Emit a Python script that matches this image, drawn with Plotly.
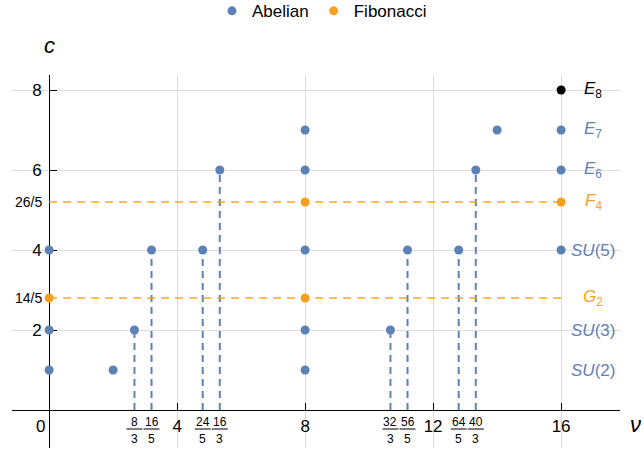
import plotly.graph_objects as go

# ---- data ----
abelian_x = [0, 0, 0, 2, 8/3, 16/5, 24/5, 16/3, 8, 8, 8, 8, 8, 32/3, 56/5, 64/5, 40/3, 14, 16, 16, 16]
abelian_y = [1, 2, 4, 1, 2, 4, 4, 6, 1, 2, 4, 6, 7, 2, 4, 4, 6, 7, 4, 6, 7]
fib_x = [0, 8, 8, 16]
fib_y = [14/5, 14/5, 26/5, 26/5]
e8_x = [16]
e8_y = [8]

stem_num = [8, 16, 24, 16, 32, 56, 64, 40]
stem_den = [3, 5, 5, 3, 3, 5, 5, 3]
stem_c = [2, 4, 4, 6, 2, 4, 4, 6]

fib_levels = [14/5, 26/5]
fib_level_text = ["14/5", "26/5"]

x_ticks = [4, 8, 12, 16]
y_ticks = [2, 4, 6, 8]

group_labels = ["<i>E</i><sub>8</sub>", "<i>E</i><sub>7</sub>", "<i>E</i><sub>6</sub>", "<i>F</i><sub>4</sub>",
                "<i>SU</i>(5)", "<i>G</i><sub>2</sub>", "<i>SU</i>(3)", "<i>SU</i>(2)"]
group_c = [8, 7, 6, 26/5, 4, 14/5, 2, 1]
group_kind = ["e8", "ab", "ab", "fib", "ab", "fib", "ab", "ab"]
label_x = 17

BLUE = "#5E81B5"
ORANGE = "#F5A01E"
ORANGE_LIGHT = "rgba(245,160,30,0.7)"
FONT = "Liberation Sans"
kind_color = {"ab": BLUE, "fib": ORANGE, "e8": "black"}

fig = go.Figure()

# stems (vertical dashed)
sx, sy = [], []
for n, d, c in zip(stem_num, stem_den, stem_c):
    sx += [n / d, n / d, None]
    sy += [0, c, None]
fig.add_trace(go.Scatter(x=sx, y=sy, mode="lines", showlegend=False, hoverinfo="skip",
                         line=dict(color=BLUE, width=2, dash="7px,5px")))

# Fibonacci horizontal dashed
hx, hy = [], []
for v in fib_levels:
    hx += [0, 16, None]
    hy += [v, v, None]
fig.add_trace(go.Scatter(x=hx, y=hy, mode="lines", showlegend=False, hoverinfo="skip",
                         line=dict(color=ORANGE_LIGHT, width=2, dash="8px,6px")))

fig.add_trace(go.Scatter(x=abelian_x, y=abelian_y, mode="markers", name="Abelian",
                         marker=dict(color=BLUE, size=9)))
fig.add_trace(go.Scatter(x=fib_x, y=fib_y, mode="markers", name="Fibonacci",
                         marker=dict(color=ORANGE, size=9)))
fig.add_trace(go.Scatter(x=e8_x, y=e8_y, mode="markers", showlegend=False,
                         marker=dict(color="black", size=9)))

xr = [-1.16, 17.84]
yr = [-0.95, 8.375]

annotations = []
shapes = []
for n, d in zip(stem_num, stem_den):
    xv = n / d
    annotations.append(dict(x=xv, y=0, text=str(n), showarrow=False, yshift=-12, yanchor="middle",
                            font=dict(family=FONT, size=12, color="black")))
    annotations.append(dict(x=xv, y=0, text=str(d), showarrow=False, yshift=-29, yanchor="middle",
                            font=dict(family=FONT, size=12, color="black")))
    shapes.append(dict(type="line", xref="x", yref="y", xsizemode="pixel", ysizemode="pixel",
                       xanchor=xv, yanchor=0, x0=-8, x1=8, y0=-19, y1=-19,
                       line=dict(color="black", width=1)))

for v, t in zip(fib_levels, fib_level_text):
    annotations.append(dict(x=0, y=v, text=t, showarrow=False, xanchor="right", xshift=-5,
                            font=dict(family=FONT, size=14, color="black")))

annotations.append(dict(x=0, y=0, text="0", showarrow=False, xshift=-9, yshift=-16, yanchor="middle",
                        font=dict(family=FONT, size=17, color="black")))

for t, c, k in zip(group_labels, group_c, group_kind):
    annotations.append(dict(x=label_x, y=c, text=t, showarrow=False, xanchor="center", yanchor="middle",
                            font=dict(family=FONT, size=17, color=kind_color[k])))

annotations.append(dict(x=0, y=1, xref="x", yref="paper", text="<i>c</i>", showarrow=False,
                        yshift=30, yanchor="middle", font=dict(family=FONT, size=22, color="black")))
annotations.append(dict(x=xr[1], y=0, xref="x", yref="y", text="<i>ν</i>", showarrow=False,
                        xanchor="left", xshift=8, yshift=-14, yanchor="middle",
                        font=dict(family=FONT, size=22, color="black")))

fig.update_layout(
    width=644, height=451,
    margin=dict(l=12, r=24, t=75, b=3, autoexpand=False),
    plot_bgcolor="white", paper_bgcolor="white",
    font=dict(family=FONT, size=17, color="black"),
    legend=dict(orientation="h", x=0.5, xanchor="center", xref="container",
                y=0.975, yanchor="middle", yref="container",
                font=dict(family=FONT, size=17), itemwidth=30, tracegroupgap=0),
    annotations=annotations,
    shapes=shapes,
    xaxis=dict(range=xr, anchor="free", position=(0 - yr[0]) / (yr[1] - yr[0]), automargin=False,
               tickvals=x_ticks, ticktext=[str(v) for v in x_ticks],
               ticks="inside", ticklen=7, tickcolor="black", showline=True, linecolor="black",
               linewidth=1.2, showgrid=True, gridcolor="#DDDDDD", gridwidth=1, zeroline=False,
               layer="below traces", tickfont=dict(size=17)),
    yaxis=dict(range=yr, anchor="free", position=(0 - xr[0]) / (xr[1] - xr[0]), automargin=False,
               tickvals=y_ticks, ticktext=[str(v) for v in y_ticks],
               ticks="inside", ticklen=7, tickcolor="black", showline=True, linecolor="black",
               linewidth=1.2, showgrid=True, gridcolor="#DDDDDD", gridwidth=1, zeroline=False,
               layer="below traces", tickfont=dict(size=17), ticklabelstandoff=4),
)

fig.write_html("out.html", config={"displayModeBar": False},
               post_script="document.body.style.margin='0';")
